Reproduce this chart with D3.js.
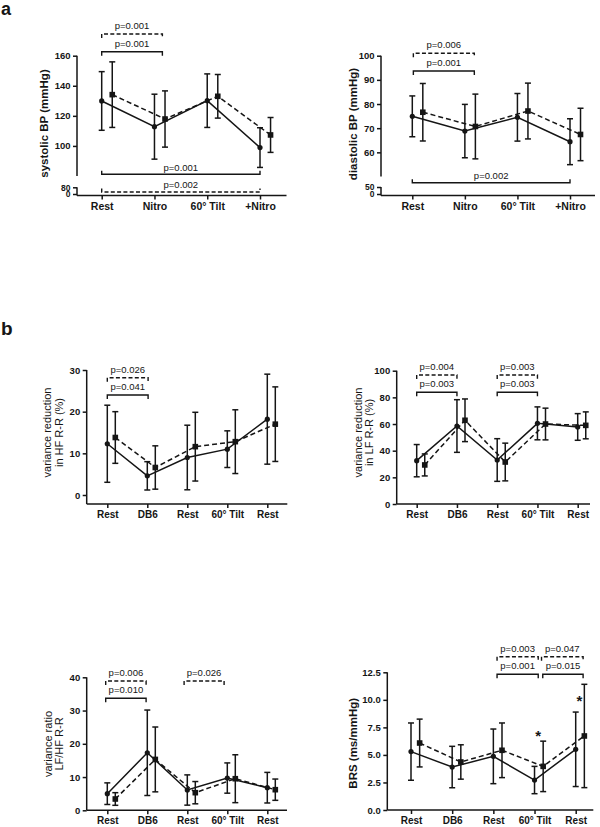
<!DOCTYPE html>
<html><head><meta charset="utf-8">
<script src="https://cdn.jsdelivr.net/npm/d3@7"></script>
<style>
body{margin:0;background:#fff}
svg{display:block;font-family:"Liberation Sans",Arial,sans-serif}
</style>
</head><body>
<svg id="c" width="600" height="827"></svg>
<script>
// ---------- DATA ----------
const bpCategories = ["Rest", "Nitro", "60° Tilt", "+Nitro"];
const hrvCategories = ["Rest", "DB6", "Rest", "60° Tilt", "Rest"];

// systolic BP (mmHg)
const sysSolidMean = [129.9, 112.8, 130.1, 98.9];
const sysSolidSD   = [19.5, 21.6, 17.8, 13.2];
const sysDashMean  = [134.1, 117.9, 133.0, 107.3];
const sysDashSD    = [21.8, 18.7, 14.5, 11.6];
const sysTicks = [100, 120, 140, 160];
const sysLowTicks = [0, 80];
const sysP = ["p=0.001", "p=0.001", "p=0.001", "p=0.002"];

// diastolic BP (mmHg)
const diaSolidMean = [74.9, 68.8, 74.5, 64.4];
const diaSolidSD   = [8.45, 11.05, 9.85, 9.5];
const diaDashMean  = [76.6, 70.7, 77.1, 67.4];
const diaDashSD    = [11.9, 13.4, 11.55, 10.85];
const diaTicks = [60, 70, 80, 90, 100];
const diaLowTicks = [0, 50];
const diaP = ["p=0.006", "p=0.001", "p=0.002"];

// variance reduction in HF R-R (%)
const hfSolidMean = [12.3, 4.6, 9.0, 11.0, 18.2];
const hfSolidSD   = [9.25, 3.4, 7.75, 4.4, 10.8];
const hfDashMean  = [13.8, 6.6, 11.6, 12.8, 17.0];
const hfDashSD    = [6.2, 5.2, 8.25, 7.65, 8.95];
const hfTicks = [0, 10, 20, 30];
const hfP = ["p=0.026", "p=0.041"];

// variance reduction in LF R-R (%)
const lfSolidMean = [32.5, 58.5, 33.0, 60.5, 57.8];
const lfSolidSD   = [12.1, 19.75, 16.0, 12.35, 10.0];
const lfDashMean  = [29.3, 62.8, 31.5, 60.0, 59.0];
const lfDashSD    = [8.25, 16.0, 14.15, 11.9, 10.1];
const lfTicks = [0, 20, 40, 60, 80, 100];
const lfP = ["p=0.004", "p=0.003", "p=0.003", "p=0.003"];

// variance ratio LF/HF R-R
const ratioSolidMean = [5.0, 17.3, 6.1, 9.7, 6.8];
const ratioSolidSD   = [3.25, 12.85, 4.55, 4.55, 4.6];
const ratioDashMean  = [3.4, 15.3, 5.3, 9.5, 6.2];
const ratioDashSD    = [1.9, 9.75, 3.35, 7.2, 3.2];
const ratioTicks = [0, 10, 20, 30, 40];
const ratioP = ["p=0.006", "p=0.010", "p=0.026"];

// BRS (ms/mmHg)
const brsSolidMean = [5.3, 3.9, 4.87, 2.72, 5.51];
const brsSolidSD   = [2.6, 1.88, 2.48, 1.24, 3.38];
const brsDashMean  = [6.08, 4.36, 5.42, 3.96, 6.72];
const brsDashSD    = [2.17, 1.56, 2.48, 2.29, 4.69];
const brsTicks = [0, 2.5, 5, 7.5, 10, 12.5];
const brsP = ["p=0.003", "p=0.047", "p=0.001", "p=0.015"];
const brsStarIndex = [3, 4];
const brsStarValue = [7.0, 10.15];

// ---------- DRAWING ----------
const svg = d3.select("#c");
const INK = "#151515";

function panel(o) {
  const g = svg.append("g");
  const n = o.cats.length;
  const x = d3.scaleLinear().domain([0, n - 1]).range(o.xRange);
  const y = d3.scaleLinear().domain(o.yDomain).range(o.yRange);

  // y axis (upper)
  const ya = d3.axisLeft(y).tickValues(o.yTicks).tickFormat(o.yFmt || d3.format("d"))
    .tickSize(4).tickSizeOuter(0).tickPadding(2.5);
  const gy = g.append("g").attr("transform", `translate(${o.axisX},0)`).call(ya);
  gy.select(".domain").attr("d", `M0,${o.yAxisTop}V${o.yAxisBottom}`);
  styleAxis(gy, 9.5);

  // lower broken segment
  if (o.low) {
    const yl = d3.scaleLinear().domain(o.low.domain).range(o.low.range);
    const gl = g.append("g").attr("transform", `translate(${o.axisX},0)`)
      .call(d3.axisLeft(yl).tickValues(o.low.ticks).tickSize(4).tickSizeOuter(0).tickPadding(2.5));
    gl.select(".domain").attr("d", `M0,${o.low.range[1]}V${o.axisY}`);
    styleAxis(gl, 8.5);
  }

  // x axis
  const xa = d3.axisBottom(x).tickValues(d3.range(n)).tickFormat(i => o.cats[i])
    .tickSize(4).tickSizeOuter(0).tickPadding(3);
  const gx = g.append("g").attr("transform", `translate(0,${o.axisY})`).call(xa);
  gx.select(".domain").attr("d", `M${o.axisX},0H${o.xEnd}`);
  styleAxis(gx, o.xFont || 10);

  // series
  o.series.forEach(s => {
    const pts = s.mean.map((m, i) => ({ xi: i + s.off, m: m, sd: s.sd[i] }));
    g.append("path").datum(pts)
      .attr("d", d3.line().x(d => x(d.xi)).y(d => y(d.m)))
      .attr("fill", "none").attr("stroke", INK).attr("stroke-width", 1.5)
      .attr("stroke-dasharray", s.dashed ? "5,3" : null);
    const eb = g.append("g").selectAll("g").data(pts).join("g");
    eb.append("line").attr("x1", d => x(d.xi)).attr("x2", d => x(d.xi))
      .attr("y1", d => y(d.m - d.sd)).attr("y2", d => y(d.m + d.sd))
      .attr("stroke", INK).attr("stroke-width", 1.5);
    [-1, 1].forEach(k => {
      eb.append("line").attr("x1", d => x(d.xi) - 3).attr("x2", d => x(d.xi) + 3)
        .attr("y1", d => y(d.m + k * d.sd)).attr("y2", d => y(d.m + k * d.sd))
        .attr("stroke", INK).attr("stroke-width", 1.5);
    });
    if (s.dashed) {
      eb.append("rect").attr("x", d => x(d.xi) - 2.8).attr("y", d => y(d.m) - 2.8)
        .attr("width", 5.6).attr("height", 5.6).attr("fill", INK);
    } else {
      eb.append("circle").attr("cx", d => x(d.xi)).attr("cy", d => y(d.m))
        .attr("r", 2.6).attr("fill", INK);
    }
  });

  // significance brackets
  o.brackets.forEach(b => {
    const x0 = x(b.from), x1 = x(b.to), yy = b.y;
    const t = b.up ? -3.5 : 4;
    g.append("path").attr("d", `M${x0},${yy + t}V${yy}H${x1}V${yy + t}`)
      .attr("fill", "none").attr("stroke", INK).attr("stroke-width", 1.4)
      .attr("stroke-dasharray", b.dashed ? "4,2.3" : null);
    g.append("text").attr("x", (x0 + x1) / 2).attr("y", yy - (b.up ? 3.8 : 5.2))
      .attr("text-anchor", "middle").attr("font-size", 9.5).attr("fill", INK)
      .text(b.label);
  });

  // y label
  const lbl = g.append("text").attr("transform", `translate(${o.ylab.x},${o.ylab.y}) rotate(-90)`)
    .attr("text-anchor", "middle").attr("font-size", o.ylab.size)
    .attr("font-weight", o.ylab.bold ? "bold" : "normal").attr("fill", INK);
  o.ylab.lines.forEach((t, i) => {
    lbl.append("tspan").attr("x", 0).attr("dy", i === 0 ? "0.35em" : o.ylab.gap).text(t);
  });
  return { g, x, y };
}

function styleAxis(sel, fs) {
  sel.selectAll("path,line").attr("stroke", INK).attr("stroke-width", 1.5);
  sel.selectAll("text").attr("font-size", fs).attr("font-weight", "bold").attr("fill", INK)
    .attr("font-family", "Liberation Sans, Arial, sans-serif");
}

// panel letters
svg.append("text").attr("x", 1).attr("y", 15).attr("font-size", 18).attr("font-weight", "bold")
  .attr("fill", INK).text("a");
svg.append("text").attr("x", 1).attr("y", 335).attr("font-size", 19).attr("font-weight", "bold")
  .attr("fill", INK).text("b");

// systolic
panel({
  cats: bpCategories, xRange: [101.7, 260], yDomain: [80, 160], yRange: [176, 55.7],
  yTicks: sysTicks, axisX: 77, yAxisTop: 55.7, yAxisBottom: 176, axisY: 195.5, xEnd: 286.5, xFont: 10.5,
  low: { domain: [0, 80], range: [194, 187.3], ticks: sysLowTicks },
  series: [
    { mean: sysSolidMean, sd: sysSolidSD, dashed: false, off: 0 },
    { mean: sysDashMean, sd: sysDashSD, dashed: true, off: 0.2 }
  ],
  brackets: [
    { from: 0, to: 1.15, label: sysP[0], dashed: true, y: 34 },
    { from: 0, to: 1.15, label: sysP[1], dashed: false, y: 51.7 },
    { from: 0, to: 3, label: sysP[2], dashed: false, y: 174.3, up: true },
    { from: 0, to: 3, label: sysP[3], dashed: true, y: 192, up: true }
  ],
  ylab: { x: 44, y: 123.5, size: 11.5, bold: true, lines: ["systolic BP (mmHg)"] }
});

// diastolic
panel({
  cats: bpCategories, xRange: [412.3, 570], yDomain: [50, 100], yRange: [176.5, 55.7],
  yTicks: diaTicks, axisX: 381, yAxisTop: 55.7, yAxisBottom: 176.5, axisY: 195.5, xEnd: 595, xFont: 10.5,
  low: { domain: [0, 50], range: [194, 187], ticks: diaLowTicks },
  series: [
    { mean: diaSolidMean, sd: diaSolidSD, dashed: false, off: 0 },
    { mean: diaDashMean, sd: diaDashSD, dashed: true, off: 0.2 }
  ],
  brackets: [
    { from: 0.02, to: 1.18, label: diaP[0], dashed: true, y: 53.3 },
    { from: 0.02, to: 1.18, label: diaP[1], dashed: false, y: 71 },
    { from: 0, to: 3, label: diaP[2], dashed: false, y: 182.7, up: true }
  ],
  ylab: { x: 353.3, y: 124, size: 11.5, bold: true, lines: ["diastolic BP (mmHg)"] }
});

// HF
panel({
  cats: hrvCategories, xRange: [107.3, 267.3], yDomain: [0, 30], yRange: [495, 370],
  yTicks: hfTicks, axisX: 86.7, yAxisTop: 370, yAxisBottom: 504, axisY: 504, xEnd: 287.3,
  series: [
    { mean: hfSolidMean, sd: hfSolidSD, dashed: false, off: 0 },
    { mean: hfDashMean, sd: hfDashSD, dashed: true, off: 0.2 }
  ],
  brackets: [
    { from: 0, to: 1.02, label: hfP[0], dashed: true, y: 377.7 },
    { from: 0, to: 1.02, label: hfP[1], dashed: false, y: 395 }
  ],
  ylab: { x: 47.2, y: 432.5, size: 11, bold: false, gap: "1.05em", lines: ["variance reduction", "in HF R-R (%)"] }
});

// LF
panel({
  cats: hrvCategories, xRange: [416.7, 577.7], yDomain: [0, 100], yRange: [504, 370.7],
  yTicks: lfTicks, axisX: 396.7, yAxisTop: 370.7, yAxisBottom: 504, axisY: 504, xEnd: 590,
  series: [
    { mean: lfSolidMean, sd: lfSolidSD, dashed: false, off: 0 },
    { mean: lfDashMean, sd: lfDashSD, dashed: true, off: 0.2 }
  ],
  brackets: [
    { from: 0, to: 1, label: lfP[0], dashed: true, y: 375 },
    { from: 0, to: 1, label: lfP[1], dashed: false, y: 392.3 },
    { from: 2, to: 3, label: lfP[2], dashed: true, y: 375 },
    { from: 2, to: 3, label: lfP[3], dashed: false, y: 392.3 }
  ],
  ylab: { x: 358, y: 432.5, size: 11, bold: false, gap: "1.05em", lines: ["variance reduction", "in LF R-R (%)"] }
});

// LF/HF
panel({
  cats: hrvCategories, xRange: [107.3, 267.3], yDomain: [0, 40], yRange: [810.3, 677.3],
  yTicks: ratioTicks, axisX: 86.7, yAxisTop: 677.3, yAxisBottom: 810.3, axisY: 810.3, xEnd: 287,
  series: [
    { mean: ratioSolidMean, sd: ratioSolidSD, dashed: false, off: 0 },
    { mean: ratioDashMean, sd: ratioDashSD, dashed: true, off: 0.2 }
  ],
  brackets: [
    { from: -0.04, to: 0.97, label: ratioP[0], dashed: true, y: 681 },
    { from: -0.04, to: 0.97, label: ratioP[1], dashed: false, y: 698.3 },
    { from: 1.92, to: 2.92, label: ratioP[2], dashed: true, y: 681 }
  ],
  ylab: { x: 47.8, y: 744, size: 11, bold: false, gap: "1.05em", lines: ["variance ratio", "LF/HF R-R"] }
});

// BRS
const brs = panel({
  cats: hrvCategories, xRange: [411, 575.7], yDomain: [0, 12.5], yRange: [810, 672.3],
  yTicks: brsTicks, yFmt: d3.format(".1f"), axisX: 387.3, yAxisTop: 672.3, yAxisBottom: 810, axisY: 810, xEnd: 593.3,
  series: [
    { mean: brsSolidMean, sd: brsSolidSD, dashed: false, off: 0 },
    { mean: brsDashMean, sd: brsDashSD, dashed: true, off: 0.21 }
  ],
  brackets: [
    { from: 2.09, to: 3.09, label: brsP[0], dashed: true, y: 656.7 },
    { from: 3.17, to: 4.18, label: brsP[1], dashed: true, y: 656.7 },
    { from: 2.09, to: 3.09, label: brsP[2], dashed: false, y: 674.3 },
    { from: 3.2, to: 4.18, label: brsP[3], dashed: false, y: 674.3 }
  ],
  ylab: { x: 353, y: 743.3, size: 11.5, bold: true, lines: ["BRS (ms/mmHg)"] }
});
brs.g.append("g").selectAll("text").data(brsStarIndex).join("text")
  .attr("x", d => brs.x(d + 0.21) - 5)
  .attr("y", (d, i) => brs.y(brsStarValue[i]) + 8)
  .attr("text-anchor", "middle").attr("font-size", 15).attr("font-weight", "bold").attr("fill", INK)
  .text("*");
</script>
</body></html>
